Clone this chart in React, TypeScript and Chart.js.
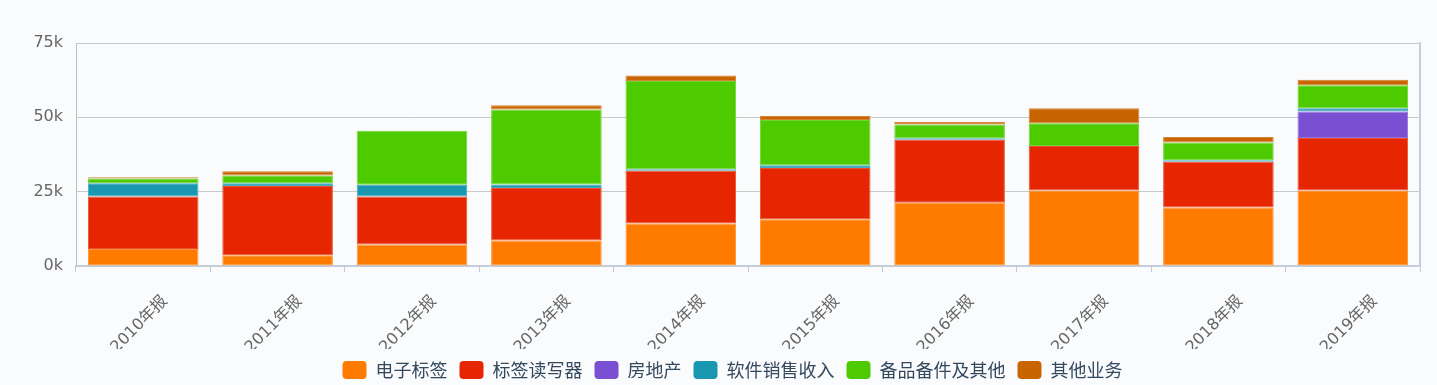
import React, { useEffect, useRef } from 'react';
import { Chart, registerables } from 'chart.js';

Chart.register(...registerables);

const categories = ['2010年报', '2011年报', '2012年报', '2013年报', '2014年报', '2015年报', '2016年报', '2017年报', '2018年报', '2019年报'];
const seriesNames = ['电子标签', '标签读写器', '房地产', '软件销售收入', '备品备件及其他', '其他业务'];
const dianZiBiaoQian = [5700, 3600, 7200, 8600, 14300, 15700, 21300, 25400, 19700, 25400];
const biaoQianDuXieQi = [17650, 23300, 16150, 17600, 17700, 17300, 21200, 15000, 15400, 17650];
const fangDiChan = [null, null, null, null, null, null, null, null, null, 8950];
const ruanJianXiaoShou = [4500, 900, 4000, 1200, 500, 900, 450, null, 450, 1050];
const beiPinBeiJian = [1600, 2600, 18100, 25200, 29700, 15200, 4650, 7600, 5950, 7750];
const qiTaYeWu = [400, 1500, null, 1450, 1900, 1350, 800, 5050, 1900, 1800];
const seriesColors = ['#ff7b00', '#e52600', '#7b4fd1', '#1a97b0', '#4ecb00', '#c96500'];
const yTicks = [0, 25000, 50000, 75000];

const BG = '#f9fbfd';

function tint(hex: string, amt: number) {
  const n = parseInt(hex.slice(1), 16);
  const r = (n >> 16) & 255, g = (n >> 8) & 255, b = n & 255;
  const m = (c: number) => Math.round(c + (255 - c) * amt);
  return `rgb(${m(r)},${m(g)},${m(b)})`;
}

export default function App() {
  const ref = useRef<HTMLCanvasElement | null>(null);
  useEffect(() => {
    document.body.style.margin = '0';
    document.body.style.background = BG;
    const canvas = ref.current;
    if (!canvas) return;
    const seriesData = [dianZiBiaoQian, biaoQianDuXieQi, fangDiChan, ruanJianXiaoShou, beiPinBeiJian, qiTaYeWu];
    const chart = new Chart(canvas, {
      type: 'bar',
      data: {
        labels: categories,
        datasets: seriesNames.map((name, i) => ({
          label: name,
          data: seriesData[i] as any,
          backgroundColor: seriesColors[i],
          borderColor: tint(seriesColors[i], 0.2),
          borderWidth: 1,
          borderSkipped: false,
          categoryPercentage: 1,
          barPercentage: 0.823,
          yAxisID: 'y',
        })),
      },
      options: {
        responsive: false,
        animation: false,
        layout: { padding: { left: 28, right: 0, top: 43, bottom: 0 } },
        plugins: {
          tooltip: { enabled: false },
          legend: {
            position: 'bottom',
            maxHeight: 36,
            labels: {
              boxWidth: 24,
              boxHeight: 18,
              useBorderRadius: true,
              borderRadius: 4,
              padding: 12,
              color: '#34495e',
              font: { size: 18, family: "'Noto Sans CJK SC', sans-serif" },
              generateLabels: (c: any) =>
                Chart.defaults.plugins.legend.labels.generateLabels(c).map((l: any) => ({
                  ...l,
                  strokeStyle: l.fillStyle,
                  lineWidth: 0,
                })),
            },
          },
        },
        scales: {
          x: {
            stacked: true,
            afterFit: (s: any) => { s.height = 83; },
            grid: {
              offset: true,
              drawOnChartArea: false,
              drawTicks: true,
              tickLength: 6,
              color: '#c4cdd9',
            },
            border: { color: '#c4cdd9', width: 2 },
            ticks: {
              minRotation: 45,
              maxRotation: 45,
              labelOffset: 22,
              padding: 20,
              color: '#666',
              font: { size: 16, family: "'DejaVu Sans', 'Noto Sans CJK SC', sans-serif" },
            },
          },
          y: {
            stacked: true,
            min: 0,
            max: 75000,
            afterFit: (s: any) => { s.width = 48; },
            afterBuildTicks: (s: any) => { s.ticks = yTicks.map((v) => ({ value: v })); },
            grid: { color: '#c8c8c8', drawTicks: false, lineWidth: 1 },
            border: { color: '#c0c0c0', width: 1 },
            ticks: {
              padding: 13,
              color: '#666',
              font: { size: 16, family: "'DejaVu Sans', sans-serif" },
              callback: (v: any) => `${Number(v) / 1000}k`,
            },
          },
          y2: {
            position: 'right',
            display: true,
            min: 0,
            max: 75000,
            afterFit: (s: any) => { s.width = 17; },
            grid: { drawOnChartArea: false, drawTicks: false },
            border: { color: '#c4cdd9', width: 2 },
            ticks: { display: false },
          },
        },
      },
    });
    return () => chart.destroy();
  }, []);
  return (
    <div style={{ width: 1437, height: 385, background: BG }}>
      <canvas ref={ref} width={1437} height={385} style={{ display: 'block' }} />
    </div>
  );
}
